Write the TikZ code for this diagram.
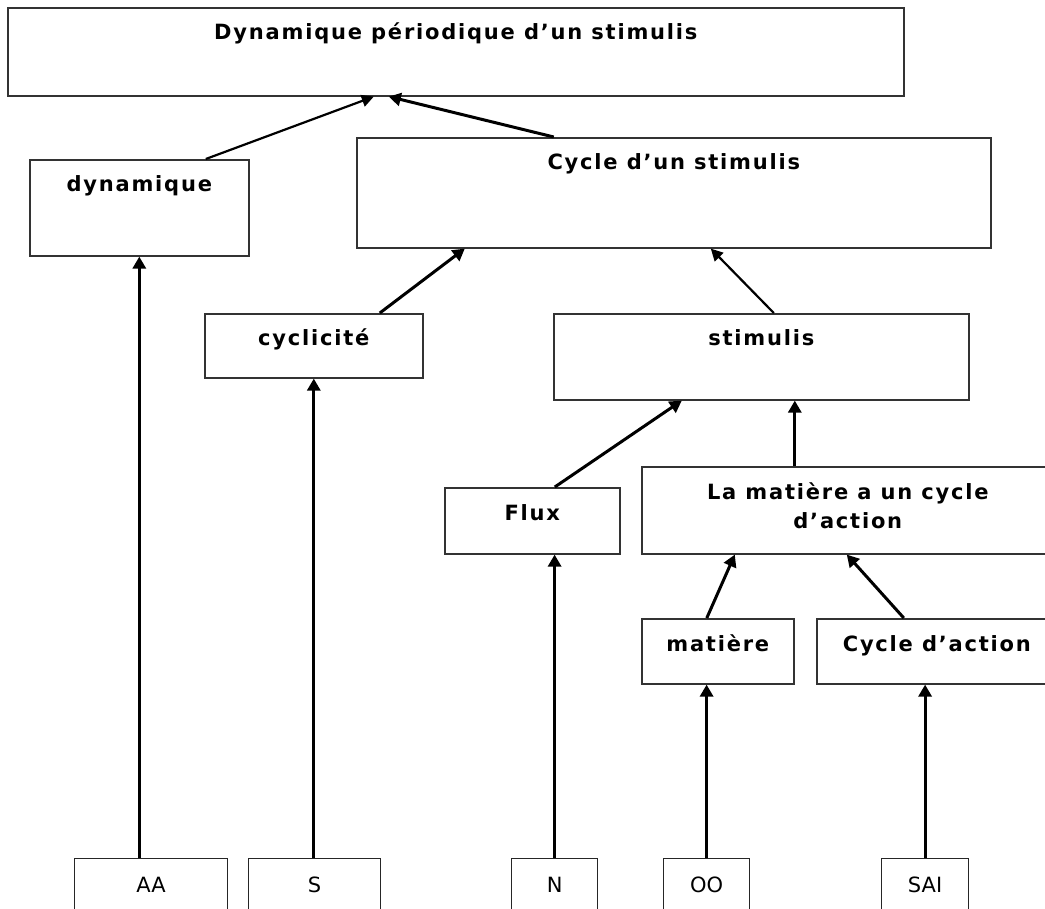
\documentclass[tikz,border=0pt]{standalone}
\usepackage{fontspec}
\usetikzlibrary{arrows.meta}
\newfontfamily\lblfont[LetterSpace=8.5]{DejaVu Sans}
\newfontfamily\leaffont{DejaVu Sans}
\begin{document}
\begin{tikzpicture}[x=1pt,y=-1pt,
  box/.style={draw=black!80, line width=1.6pt, rectangle, inner sep=0pt, anchor=north west},
  leafbox/.style={draw=black!85, line width=1.2pt, rectangle, inner sep=0pt, anchor=north west, minimum height=80pt},
  lbl/.style={anchor=base, inner sep=0pt, yshift=-33pt, align=center,
    font=\lblfont\bfseries\fontsize{21}{29}\selectfont},
  leaflbl/.style={anchor=base, inner sep=0pt, yshift=-34pt,
    font=\leaffont\fontsize{21}{25}\selectfont},
  arr/.style={-{Triangle[length=12pt,width=13pt]}, line width=3pt},
  thinarr/.style={-{Triangle[length=12pt,width=12pt]}, line width=2.2pt}]
\useasboundingbox (0,0) rectangle (1045,909);
\fill[white] (0,0) rectangle (1045,909);
\clip (0,0) rectangle (1045,909);

% concept boxes, label near the top edge
\node[box, minimum width=896pt, minimum height=88pt,
  label={[lbl]north:Dynamique périodique d’un stimulis}] (top) at (7,7) {};
\node[box, minimum width=219pt, minimum height=96pt,
  label={[lbl]north:dynamique}] (dyn) at (29,159) {};
\node[box, minimum width=634pt, minimum height=110pt,
  label={[lbl]north:Cycle d’un stimulis}] (cyc) at (356,137) {};
\node[box, minimum width=218pt, minimum height=64pt,
  label={[lbl]north:cyclicité}] (cycl) at (204,313) {};
\node[box, minimum width=415pt, minimum height=86pt,
  label={[lbl]north:stimulis}] (stim) at (553,313) {};
\node[box, minimum width=175pt, minimum height=66pt,
  label={[lbl]north:Flux}] (flux) at (444,487) {};
% two-line label: the base anchor sits on the second line
\node[box, minimum width=412pt, minimum height=87pt,
  label={[lbl, yshift=-29pt]north:La matière a un cycle\\d’action}] (lamat) at (641,466) {};
\node[box, minimum width=152pt, minimum height=65pt,
  label={[lbl]north:matière}] (mat) at (641,618) {};
\node[box, minimum width=240pt, minimum height=65pt,
  label={[lbl]north:Cycle d’action}] (cact) at (816,618) {};

% leaf boxes along the bottom edge
\node[leafbox, minimum width=153pt, label={[leaflbl]north:AA}] (aa) at (74,858) {};
\node[leafbox, minimum width=132pt, label={[leaflbl]north:S}] (s) at (248,858) {};
\node[leafbox, minimum width=86pt, label={[leaflbl]north:N}] (n) at (511,858) {};
\node[leafbox, minimum width=86pt, label={[leaflbl]north:OO}] (oo) at (663,858) {};
\node[leafbox, minimum width=87pt, label={[leaflbl]north:SAI}] (sai) at (881,858) {};

% upward connectors
\draw[thinarr] ([xshift=66.5pt]dyn.north) -- ([xshift=-82pt]top.south);
\draw[arr] ([xshift=-120pt]cyc.north) -- ([xshift=-67pt]top.south);
\draw[arr] ([xshift=66pt]cycl.north) -- ([xshift=-209pt]cyc.south);
\draw[thinarr] ([xshift=12.5pt]stim.north) -- ([xshift=37pt]cyc.south);
\draw[arr] ([xshift=22.5pt]flux.north) -- ([xshift=-79.5pt]stim.south);
\draw[arr] ([xshift=-53pt]lamat.north) -- ([xshift=33.5pt]stim.south);
\draw[arr] ([xshift=-11pt]mat.north) -- ([xshift=-113pt]lamat.south);
\draw[arr] ([xshift=-33pt]cact.north) -- ([xshift=-1pt]lamat.south);

\draw[arr] (dyn.south |- aa.north) -- (dyn.south);
\draw[arr] (cycl.south |- s.north) -- (cycl.south);
\draw[arr] (n.north) -- (n.north |- flux.south);
\draw[arr] (oo.north) -- (oo.north |- mat.south);
\draw[arr] (sai.north) -- (sai.north |- cact.south);
\end{tikzpicture}
\end{document}
